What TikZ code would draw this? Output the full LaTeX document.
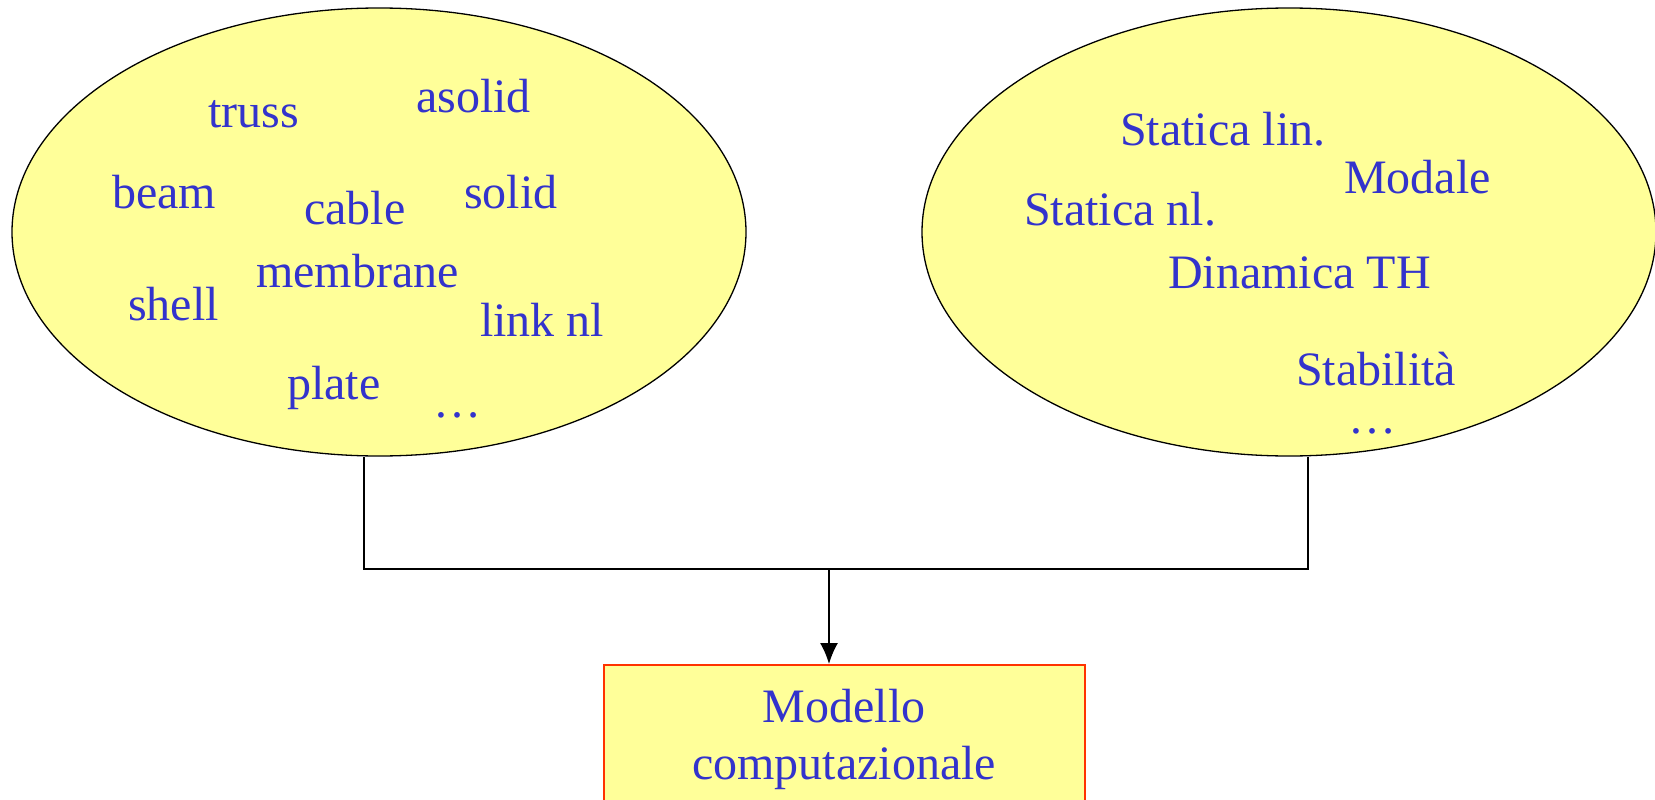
\documentclass[tikz,border=0pt]{standalone}
\usepackage{fontspec}
\setmainfont{Liberation Serif}
\usetikzlibrary{arrows.meta,shapes.geometric}
\definecolor{txtblue}{RGB}{51,51,204}
\definecolor{pale}{RGB}{255,255,153}
\definecolor{boxred}{RGB}{255,51,0}
\tikzset{
  blob/.style={draw=black, fill=pale, ellipse, line width=1.3pt, inner sep=0pt,
    minimum width=734pt, minimum height=448pt},
  word/.style={anchor=base west, inner sep=0pt, text=txtblue,
    font=\fontsize{48}{57}\selectfont},
  target/.style={draw=boxred, fill=pale, line width=2pt, inner sep=0pt,
    minimum width=481pt, minimum height=148.6pt, align=center, text=txtblue,
    font=\fontsize{48}{57}\selectfont},
  wire/.style={draw=black, line width=1.5pt},
}
\begin{document}
\begin{tikzpicture}[x=1pt,y=-1pt]
\useasboundingbox (0,0) rectangle (1655,800);
\begin{scope}
\clip (0,0) rectangle (1655,800);
\node[blob] (L) at (379,232) {};
\node[blob] (R) at (1289,232) {};
\node[target] (M) at (844,739.3) {Modello\\computazionale};

\node[word] (truss) at (208,128) {truss};
\node[word] (asolid) at (416,113) {asolid};
\node[word] (beam) at (112,208) {beam};
\node[word] (cable) at (304,224) {cable};
\node[word] (solid) at (464,208) {solid};
\node[word] (membrane) at (256,287) {membrane};
\node[word] (shell) at (128,320) {shell};
\node[word] (link) at (480,336) {link nl};
\node[word] (plate) at (287,399) {plate};
\node[word] (dotsL) at (433,417) {\ldots};

\node[word] (slin) at (1120,145) {Statica lin.};
\node[word] (modale) at (1344,193) {Modale};
\node[word] (snl) at (1024,225) {Statica nl.};
\node[word] (dyn) at (1168,288) {Dinamica TH};
\node[word] (stab) at (1296,385) {Stabilità};
\node[word] (dotsR) at (1348,433) {\ldots};

\coordinate (j) at (829,569);
\draw[wire] ([xshift=-15pt]L.south) |- (j) -| ([xshift=19pt]R.south);
\draw[wire, -{Latex[length=21pt,width=18pt]}] (j) -- (j |- M.north);
\end{scope}
\end{tikzpicture}
\end{document}
